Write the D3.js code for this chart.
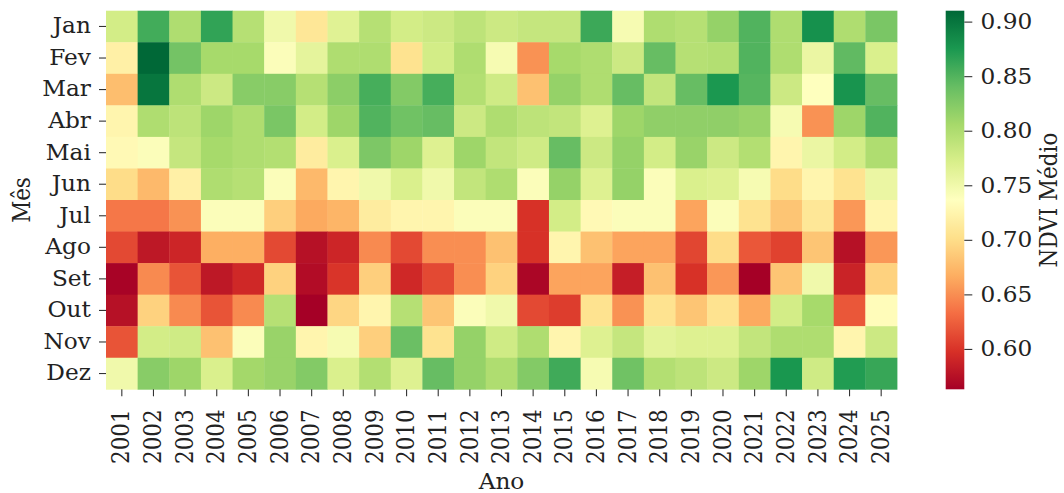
<!DOCTYPE html>
<html>
<head>
<meta charset="utf-8">
<script src="https://cdn.jsdelivr.net/npm/d3@7"></script>
<style>
  html, body { margin: 0; padding: 0; background: #fff; }
  svg { display: block; }
  text { font-family: "DejaVu Serif", serif; fill: #222; }
</style>
</head>
<body>
<svg id="chart" width="1064" height="493"></svg>
<script>
// Monthly mean NDVI, one array per month, 2001–2025
const years = d3.range(2001, 2026).map(String);
const months = ["Jan", "Fev", "Mar", "Abr", "Mai", "Jun", "Jul", "Ago", "Set", "Out", "Nov", "Dez"];

const jan = [0.775, 0.857, 0.800, 0.865, 0.795, 0.750, 0.710, 0.765, 0.795, 0.775, 0.780, 0.790, 0.780, 0.785, 0.785, 0.860, 0.745, 0.800, 0.795, 0.815, 0.850, 0.800, 0.880, 0.800, 0.830];
const fev = [0.720, 0.910, 0.833, 0.805, 0.805, 0.740, 0.760, 0.800, 0.800, 0.705, 0.775, 0.800, 0.745, 0.652, 0.805, 0.800, 0.780, 0.840, 0.795, 0.797, 0.850, 0.800, 0.755, 0.843, 0.770];
const mar = [0.678, 0.900, 0.800, 0.780, 0.822, 0.822, 0.795, 0.820, 0.855, 0.825, 0.855, 0.797, 0.778, 0.680, 0.815, 0.800, 0.840, 0.787, 0.840, 0.875, 0.848, 0.780, 0.737, 0.878, 0.840];
const abr = [0.725, 0.800, 0.790, 0.810, 0.800, 0.830, 0.775, 0.810, 0.850, 0.835, 0.840, 0.780, 0.800, 0.790, 0.787, 0.767, 0.810, 0.818, 0.818, 0.818, 0.813, 0.745, 0.652, 0.810, 0.850];
const mai = [0.730, 0.740, 0.785, 0.805, 0.800, 0.797, 0.715, 0.770, 0.828, 0.810, 0.767, 0.810, 0.787, 0.778, 0.840, 0.780, 0.815, 0.775, 0.813, 0.780, 0.797, 0.725, 0.755, 0.775, 0.800];
const jun = [0.700, 0.675, 0.720, 0.800, 0.795, 0.740, 0.675, 0.725, 0.750, 0.770, 0.750, 0.787, 0.800, 0.740, 0.815, 0.767, 0.815, 0.740, 0.770, 0.767, 0.745, 0.700, 0.725, 0.705, 0.755];
const jul = [0.638, 0.638, 0.652, 0.740, 0.740, 0.690, 0.665, 0.672, 0.715, 0.725, 0.725, 0.740, 0.740, 0.598, 0.775, 0.730, 0.740, 0.740, 0.662, 0.740, 0.705, 0.683, 0.710, 0.655, 0.725];
const ago = [0.612, 0.580, 0.590, 0.668, 0.668, 0.612, 0.575, 0.590, 0.648, 0.612, 0.650, 0.650, 0.680, 0.598, 0.725, 0.680, 0.662, 0.662, 0.610, 0.700, 0.620, 0.608, 0.683, 0.575, 0.655];
const set = [0.565, 0.648, 0.618, 0.580, 0.592, 0.692, 0.572, 0.600, 0.690, 0.592, 0.612, 0.650, 0.692, 0.567, 0.662, 0.662, 0.585, 0.680, 0.598, 0.655, 0.563, 0.683, 0.750, 0.588, 0.692];
const out = [0.575, 0.692, 0.648, 0.618, 0.648, 0.795, 0.563, 0.695, 0.725, 0.795, 0.683, 0.740, 0.750, 0.612, 0.605, 0.705, 0.652, 0.705, 0.683, 0.705, 0.665, 0.775, 0.805, 0.620, 0.733];
const nov = [0.618, 0.775, 0.778, 0.680, 0.740, 0.813, 0.725, 0.745, 0.690, 0.838, 0.705, 0.815, 0.778, 0.800, 0.725, 0.767, 0.785, 0.762, 0.767, 0.767, 0.787, 0.800, 0.800, 0.725, 0.780];
const dez = [0.750, 0.822, 0.810, 0.770, 0.807, 0.813, 0.825, 0.770, 0.797, 0.767, 0.840, 0.815, 0.800, 0.825, 0.858, 0.745, 0.835, 0.797, 0.790, 0.780, 0.810, 0.876, 0.778, 0.872, 0.862];

const colorbarTicks = [0.60, 0.65, 0.70, 0.75, 0.80, 0.85, 0.90];

// RdYlGn, 11 ColorBrewer stops with linear interpolation between them
const rdylgn = ["#a50026", "#d73027", "#f46d43", "#fdae61", "#fee08b", "#ffffbf",
                "#d9ef8b", "#a6d96a", "#66bd63", "#1a9850", "#006837"];

const rows = [jan, fev, mar, abr, mai, jun, jul, ago, set, out, nov, dez];
const cells = [];
rows.forEach((vals, i) => vals.forEach((v, j) => cells.push({ month: months[i], year: years[j], value: v })));

const [vmin, vmax] = d3.extent(cells, d => d.value);

const svg = d3.select("#chart");
const plot = { left: 106, right: 897, top: 10.7, bottom: 389.3 };
const FS = 21.5;      // label font size
const SX = 1.08;      // glyphs are drawn slightly wider than tall

const x = d3.scaleBand().domain(years).range([plot.left, plot.right]).padding(0);
const y = d3.scaleBand().domain(months).range([plot.top, plot.bottom]).padding(0);

const t = d3.scaleLinear().domain([vmin, vmax]).range([0, 1]);
const stopPos = d3.range(rdylgn.length).map(i => i / (rdylgn.length - 1));
const cmap = d3.scaleLinear().domain(stopPos).range(rdylgn).interpolate(d3.interpolateRgb).clamp(true);
const color = v => cmap(t(v));

// Heatmap cells
svg.append("g")
  .selectAll("rect")
  .data(cells)
  .join("rect")
  .attr("x", d => x(d.year))
  .attr("y", d => y(d.month))
  .attr("width", x.bandwidth() + 0.4)
  .attr("height", y.bandwidth() + 0.4)
  .attr("fill", d => color(d.value));

// Year axis (labels rotated)
const xAxis = svg.append("g")
  .attr("transform", `translate(0,${plot.bottom})`)
  .call(d3.axisBottom(x).tickSize(7).tickPadding(5));
xAxis.select(".domain").remove();
xAxis.selectAll("line").attr("stroke", "#333").attr("stroke-width", 1.1);
xAxis.selectAll("text")
  .attr("font-size", FS)
  .attr("fill", "#222")
  .attr("transform", `rotate(-90) scale(1,${SX})`)
  .attr("text-anchor", "end")
  .attr("dy", "0.33em")
  .attr("x", -20)
  .attr("y", 0);

// Month axis
const yAxis = svg.append("g")
  .attr("transform", `translate(${plot.left},0)`)
  .call(d3.axisLeft(y).tickSize(7).tickPadding(7));
yAxis.select(".domain").remove();
yAxis.selectAll("line").attr("stroke", "#333").attr("stroke-width", 1.1);
yAxis.selectAll("text")
  .attr("font-size", FS)
  .attr("fill", "#222")
  .attr("transform", `scale(${SX},1)`);

// Axis titles
svg.append("text")
  .attr("transform", `translate(${(plot.left + plot.right) / 2},489) scale(${SX},1)`)
  .attr("text-anchor", "middle")
  .attr("font-size", FS)
  .text("Ano");

svg.append("text")
  .attr("transform", `translate(30,${(plot.top + plot.bottom) / 2}) rotate(-90) scale(1,${SX})`)
  .attr("text-anchor", "middle")
  .attr("font-size", FS)
  .text("Mês");

// Colorbar
const cb = { x: 945.7, width: 18.6 };
const cbScale = d3.scaleLinear().domain([vmin, vmax]).range([plot.bottom, plot.top]);

const grad = svg.append("defs").append("linearGradient")
  .attr("id", "cbGrad")
  .attr("x1", 0).attr("y1", 1).attr("x2", 0).attr("y2", 0);
d3.range(0, 1.0001, 0.02).forEach(p => {
  grad.append("stop").attr("offset", p).attr("stop-color", cmap(p));
});

svg.append("rect")
  .attr("x", cb.x)
  .attr("y", plot.top)
  .attr("width", cb.width)
  .attr("height", plot.bottom - plot.top)
  .attr("fill", "url(#cbGrad)");

const cbAxis = svg.append("g")
  .attr("transform", `translate(${cb.x + cb.width},0)`)
  .call(d3.axisRight(cbScale).tickValues(colorbarTicks).tickFormat(d3.format(".2f")).tickSize(8).tickPadding(7));
cbAxis.select(".domain").remove();
cbAxis.selectAll("line").attr("stroke", "#333").attr("stroke-width", 1.1);
cbAxis.selectAll("text")
  .attr("font-size", FS)
  .attr("fill", "#222")
  .attr("transform", `scale(${SX},1)`);

svg.append("text")
  .attr("transform", `translate(1057,${(plot.top + plot.bottom) / 2}) rotate(-90) scale(1,${SX})`)
  .attr("text-anchor", "middle")
  .attr("font-size", FS)
  .text("NDVI Médio");
</script>
</body>
</html>
